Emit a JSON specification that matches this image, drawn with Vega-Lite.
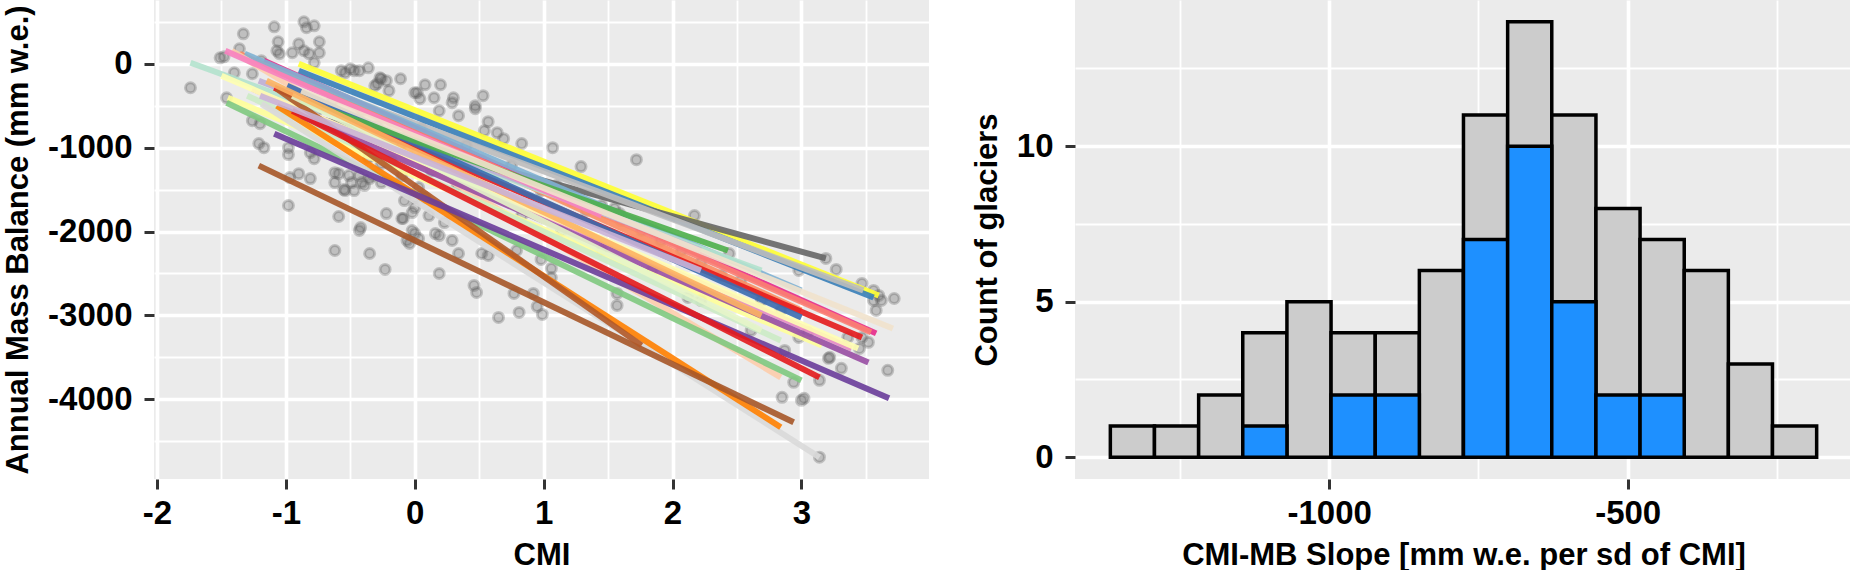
{
  "$schema": "https://vega.github.io/schema/vega-lite/v6.json",
  "background": "white",
  "padding": {"left": 2, "top": 0, "right": 0, "bottom": 0},
  "bounds": "flush",
  "spacing": 146,
  "config": {
    "view": {"fill": "#EBEBEB", "stroke": null},
    "font": "Liberation Sans",
    "axis": {
      "domain": false,
      "labelFont": "Liberation Sans",
      "labelFontSize": 33,
      "labelFontWeight": "bold",
      "labelColor": "#000000",
      "titleFont": "Liberation Sans",
      "titleFontSize": 31,
      "titleFontWeight": "bold",
      "titleColor": "#000000",
      "tickColor": "#333333",
      "tickSize": 10,
      "tickWidth": 3,
      "gridColor": "#FFFFFF",
      "gridOpacity": 1,
      "labelOverlap": false,
      "labelFlush": false,
      "labelBound": false
    },
    "axisX": {"labelPadding": 8, "titlePadding": 10},
    "axisY": {"labelPadding": 12, "titlePadding": 13}
  },
  "datasets": {
    "observations": [
      {"cmi": -1.74, "mb": -286}, {"cmi": -1.51, "mb": 71}, {"cmi": -1.48, "mb": 83}, {"cmi": -1.36, "mb": 179},
      {"cmi": -1.33, "mb": 357}, {"cmi": -1.09, "mb": 440}, {"cmi": -0.86, "mb": 500}, {"cmi": -0.78, "mb": 452},
      {"cmi": -0.84, "mb": 429}, {"cmi": -1.06, "mb": 262}, {"cmi": -0.74, "mb": 262}, {"cmi": -0.90, "mb": 238},
      {"cmi": -1.07, "mb": 155}, {"cmi": -1.05, "mb": 119}, {"cmi": -0.95, "mb": 131}, {"cmi": -0.86, "mb": 155},
      {"cmi": -0.82, "mb": 119}, {"cmi": -0.74, "mb": 131}, {"cmi": -0.78, "mb": 12}, {"cmi": -1.19, "mb": 36},
      {"cmi": -0.57, "mb": -83}, {"cmi": -0.50, "mb": -60}, {"cmi": -0.43, "mb": -83}, {"cmi": -0.31, "mb": -262},
      {"cmi": -0.26, "mb": -179}, {"cmi": -0.22, "mb": -202}, {"cmi": -0.11, "mb": -179}, {"cmi": 0.00, "mb": -345},
      {"cmi": -1.40, "mb": -107}, {"cmi": -1.26, "mb": -119}, {"cmi": -1.46, "mb": -405}, {"cmi": -1.26, "mb": -679},
      {"cmi": -1.20, "mb": -714}, {"cmi": -1.21, "mb": -952}, {"cmi": -1.17, "mb": -1000}, {"cmi": -0.98, "mb": -1000},
      {"cmi": -0.98, "mb": -1083}, {"cmi": -0.78, "mb": -1131}, {"cmi": -0.81, "mb": -1060}, {"cmi": -0.90, "mb": -1310},
      {"cmi": -0.97, "mb": -1357}, {"cmi": -0.81, "mb": -1369}, {"cmi": -0.62, "mb": -1298}, {"cmi": -0.62, "mb": -1417},
      {"cmi": -0.51, "mb": -1333}, {"cmi": -0.49, "mb": -1417}, {"cmi": -0.43, "mb": -1333}, {"cmi": -0.41, "mb": -1417},
      {"cmi": -0.55, "mb": -1500}, {"cmi": -0.47, "mb": -1512}, {"cmi": -0.39, "mb": -1452}, {"cmi": -0.35, "mb": -1369},
      {"cmi": -0.26, "mb": -1417}, {"cmi": -0.98, "mb": -1690}, {"cmi": -0.59, "mb": -1821}, {"cmi": -0.42, "mb": -1952},
      {"cmi": -0.22, "mb": -1786}, {"cmi": -0.09, "mb": -1845}, {"cmi": -0.02, "mb": -1774}, {"cmi": -0.08, "mb": -1631},
      {"cmi": 0.00, "mb": -1714}, {"cmi": -0.02, "mb": -1988}, {"cmi": -0.04, "mb": -2143}, {"cmi": 0.03, "mb": -2083},
      {"cmi": -0.62, "mb": -2226}, {"cmi": -0.36, "mb": -1119}, {"cmi": -0.26, "mb": -1190}, {"cmi": -0.18, "mb": -1155},
      {"cmi": -0.23, "mb": -881}, {"cmi": -0.10, "mb": -952}, {"cmi": 0.03, "mb": -1476}, {"cmi": -0.35, "mb": -2262},
      {"cmi": -0.23, "mb": -2452}, {"cmi": -0.43, "mb": -1988}, {"cmi": 0.00, "mb": -2024}, {"cmi": 0.08, "mb": -250},
      {"cmi": 0.20, "mb": -250}, {"cmi": 0.02, "mb": -345}, {"cmi": 0.04, "mb": -417}, {"cmi": 0.15, "mb": -405},
      {"cmi": 0.30, "mb": -405}, {"cmi": 0.29, "mb": -464}, {"cmi": 0.53, "mb": -381}, {"cmi": 0.47, "mb": -500},
      {"cmi": 0.47, "mb": -536}, {"cmi": 0.19, "mb": -560}, {"cmi": 0.34, "mb": -619}, {"cmi": 0.57, "mb": -690},
      {"cmi": 0.54, "mb": -798}, {"cmi": 0.64, "mb": -821}, {"cmi": 0.69, "mb": -893}, {"cmi": 0.83, "mb": -952},
      {"cmi": 1.07, "mb": -1000}, {"cmi": 1.29, "mb": -1226}, {"cmi": 1.72, "mb": -1143}, {"cmi": 0.11, "mb": -1810},
      {"cmi": 0.19, "mb": -2048}, {"cmi": 0.29, "mb": -2107}, {"cmi": 2.17, "mb": -1810}, {"cmi": 2.44, "mb": -2262},
      {"cmi": 3.19, "mb": -2321}, {"cmi": 3.27, "mb": -2452}, {"cmi": 2.98, "mb": -2464}, {"cmi": 3.47, "mb": -2619},
      {"cmi": 3.56, "mb": -2702}, {"cmi": 3.72, "mb": -2798}, {"cmi": 3.60, "mb": -2762}, {"cmi": 0.23, "mb": -1893},
      {"cmi": 0.19, "mb": -2500}, {"cmi": 0.46, "mb": -2643}, {"cmi": 0.48, "mb": -2726}, {"cmi": 0.77, "mb": -2738},
      {"cmi": 0.92, "mb": -2738}, {"cmi": 0.52, "mb": -2262}, {"cmi": 0.57, "mb": -2286}, {"cmi": 0.34, "mb": -2262},
      {"cmi": 1.57, "mb": -2738}, {"cmi": 2.12, "mb": -2786}, {"cmi": 1.55, "mb": -1726}, {"cmi": 1.59, "mb": -1786},
      {"cmi": 1.06, "mb": -2440}, {"cmi": 1.06, "mb": -2548}, {"cmi": 0.98, "mb": -2333}, {"cmi": 0.79, "mb": -2226},
      {"cmi": 0.65, "mb": -3024}, {"cmi": 0.81, "mb": -2964}, {"cmi": 0.95, "mb": -2893}, {"cmi": 0.99, "mb": -2988},
      {"cmi": 1.57, "mb": -2881}, {"cmi": 2.87, "mb": -3417}, {"cmi": 2.94, "mb": -3798}, {"cmi": 2.85, "mb": -3976},
      {"cmi": 3.00, "mb": -4012}, {"cmi": 3.14, "mb": -3774}, {"cmi": 3.22, "mb": -3500}, {"cmi": 3.31, "mb": -3631},
      {"cmi": 2.98, "mb": -3262}, {"cmi": 3.14, "mb": -4690}, {"cmi": 3.67, "mb": -3655}, {"cmi": 3.52, "mb": -3321},
      {"cmi": 3.45, "mb": -3393}, {"cmi": 3.47, "mb": -3262}, {"cmi": 3.58, "mb": -2940}, {"cmi": 3.56, "mb": -2821},
      {"cmi": 3.62, "mb": -2821}, {"cmi": 3.05, "mb": -3202}, {"cmi": 3.36, "mb": -3262}, {"cmi": 3.21, "mb": -3512},
      {"cmi": 3.02, "mb": -3988}, {"cmi": -0.54, "mb": -107}, {"cmi": -0.47, "mb": -83}, {"cmi": -0.36, "mb": -48},
      {"cmi": -0.27, "mb": -167}, {"cmi": -0.29, "mb": -238}, {"cmi": -0.20, "mb": -321}, {"cmi": -0.33, "mb": -1333},
      {"cmi": 0.08, "mb": -1595}, {"cmi": 0.00, "mb": -1595}, {"cmi": -0.10, "mb": -1845}, {"cmi": -0.06, "mb": -2107},
      {"cmi": 0.16, "mb": -2024}, {"cmi": -0.59, "mb": -1310}, {"cmi": -0.54, "mb": -1512},
      {"cmi": -0.88, "mb": -381}, {"cmi": -0.76, "mb": -560}, {"cmi": -0.64, "mb": -440}, {"cmi": -0.53, "mb": -619},
      {"cmi": -0.41, "mb": -560}, {"cmi": -0.29, "mb": -738}, {"cmi": -0.18, "mb": -679}, {"cmi": -0.06, "mb": -857},
      {"cmi": 0.05, "mb": -774}, {"cmi": 0.17, "mb": -917}, {"cmi": 0.29, "mb": -1036}, {"cmi": 0.40, "mb": -976},
      {"cmi": 0.52, "mb": -1155}, {"cmi": 0.64, "mb": -1274}, {"cmi": 0.75, "mb": -1214}, {"cmi": 0.87, "mb": -1393},
      {"cmi": 0.98, "mb": -1512}, {"cmi": 1.10, "mb": -1452}, {"cmi": 1.22, "mb": -1631}, {"cmi": 1.33, "mb": -1750},
      {"cmi": 1.45, "mb": -1690}, {"cmi": 1.60, "mb": -1869}, {"cmi": 1.76, "mb": -1988}, {"cmi": 1.91, "mb": -2107},
      {"cmi": 2.07, "mb": -2226}, {"cmi": 2.22, "mb": -2369}, {"cmi": 2.38, "mb": -2524}, {"cmi": 2.53, "mb": -2583},
      {"cmi": 2.69, "mb": -2821}, {"cmi": 2.84, "mb": -2940}, {"cmi": -0.10, "mb": -1333}, {"cmi": 0.13, "mb": -1274},
      {"cmi": 0.33, "mb": -1452}, {"cmi": 0.83, "mb": -1810}, {"cmi": 1.14, "mb": -1988}, {"cmi": 1.45, "mb": -2226},
      {"cmi": 1.84, "mb": -2464}, {"cmi": 2.22, "mb": -2821}, {"cmi": 2.61, "mb": -3179}
    ],
    "fits": [
      {"glacier": "G01", "cmi": -0.90, "mb": 0}, {"glacier": "G01", "cmi": 3.60, "mb": -2762},
      {"glacier": "G02", "cmi": -0.90, "mb": -83}, {"glacier": "G02", "cmi": 3.56, "mb": -2786},
      {"glacier": "G03", "cmi": -1.05, "mb": -524}, {"glacier": "G03", "cmi": 3.19, "mb": -2321},
      {"glacier": "G04", "cmi": -0.99, "mb": -143}, {"glacier": "G04", "cmi": 3.48, "mb": -2702},
      {"glacier": "G05", "cmi": -1.17, "mb": 36}, {"glacier": "G05", "cmi": 3.58, "mb": -3214},
      {"glacier": "G06", "cmi": -1.34, "mb": 95}, {"glacier": "G06", "cmi": 3.54, "mb": -3202},
      {"glacier": "G07", "cmi": -1.36, "mb": 119}, {"glacier": "G07", "cmi": 3.00, "mb": -2940},
      {"glacier": "G08", "cmi": -1.32, "mb": 119}, {"glacier": "G08", "cmi": 3.00, "mb": -2702},
      {"glacier": "G09", "cmi": -1.26, "mb": -298}, {"glacier": "G09", "cmi": 3.39, "mb": -3393},
      {"glacier": "G10", "cmi": -1.42, "mb": 155}, {"glacier": "G10", "cmi": 2.84, "mb": -3738},
      {"glacier": "G11", "cmi": -1.74, "mb": 12}, {"glacier": "G11", "cmi": 2.69, "mb": -2464},
      {"glacier": "G12", "cmi": -1.50, "mb": -143}, {"glacier": "G12", "cmi": 3.44, "mb": -3393},
      {"glacier": "G13", "cmi": -1.21, "mb": -202}, {"glacier": "G13", "cmi": 2.22, "mb": -2226},
      {"glacier": "G14", "cmi": -1.47, "mb": 155}, {"glacier": "G14", "cmi": 1.45, "mb": -1810},
      {"glacier": "G15", "cmi": -1.45, "mb": -405}, {"glacier": "G15", "cmi": 3.16, "mb": -3357},
      {"glacier": "G16", "cmi": -1.46, "mb": -464}, {"glacier": "G16", "cmi": 3.00, "mb": -3774},
      {"glacier": "G17", "cmi": -1.30, "mb": -381}, {"glacier": "G17", "cmi": 2.84, "mb": -3298},
      {"glacier": "G18", "cmi": -1.19, "mb": -476}, {"glacier": "G18", "cmi": 3.14, "mb": -4690},
      {"glacier": "G19", "cmi": -1.07, "mb": -500}, {"glacier": "G19", "cmi": 2.84, "mb": -4333},
      {"glacier": "G20", "cmi": -1.09, "mb": -286}, {"glacier": "G20", "cmi": 3.47, "mb": -3262},
      {"glacier": "G21", "cmi": -1.21, "mb": -1214}, {"glacier": "G21", "cmi": 2.94, "mb": -4274},
      {"glacier": "G22", "cmi": -1.07, "mb": -298}, {"glacier": "G22", "cmi": 1.76, "mb": -3357},
      {"glacier": "G23", "cmi": -1.09, "mb": -833}, {"glacier": "G23", "cmi": 3.68, "mb": -3988},
      {"glacier": "G24", "cmi": -0.88, "mb": -619}, {"glacier": "G24", "cmi": 3.52, "mb": -3560},
      {"glacier": "G25", "cmi": -0.95, "mb": -560}, {"glacier": "G25", "cmi": 3.14, "mb": -3738},
      {"glacier": "G26", "cmi": -0.99, "mb": -262}, {"glacier": "G26", "cmi": 3.00, "mb": -3024},
      {"glacier": "G27", "cmi": -0.88, "mb": -440}, {"glacier": "G27", "cmi": 2.43, "mb": -2226},
      {"glacier": "G28", "cmi": -0.88, "mb": -321}, {"glacier": "G28", "cmi": 3.71, "mb": -3155},
      {"glacier": "G29", "cmi": -0.95, "mb": -381}, {"glacier": "G29", "cmi": 2.69, "mb": -3179},
      {"glacier": "G30", "cmi": -1.15, "mb": -202}, {"glacier": "G30", "cmi": 2.69, "mb": -3000},
      {"glacier": "G31", "cmi": -1.20, "mb": -381}, {"glacier": "G31", "cmi": 2.22, "mb": -2464}
    ],
    "slopes": [
      {"bin_start": -1366.6, "bin_end": -1292.7, "all_glaciers": 1, "subset": 0},
      {"bin_start": -1292.7, "bin_end": -1218.7, "all_glaciers": 1, "subset": 0},
      {"bin_start": -1218.7, "bin_end": -1144.8, "all_glaciers": 2, "subset": 0},
      {"bin_start": -1144.8, "bin_end": -1070.8, "all_glaciers": 4, "subset": 1},
      {"bin_start": -1070.8, "bin_end": -996.9, "all_glaciers": 5, "subset": 0},
      {"bin_start": -996.9, "bin_end": -922.9, "all_glaciers": 4, "subset": 2},
      {"bin_start": -922.9, "bin_end": -849.0, "all_glaciers": 4, "subset": 2},
      {"bin_start": -849.0, "bin_end": -775.1, "all_glaciers": 6, "subset": 0},
      {"bin_start": -775.1, "bin_end": -701.1, "all_glaciers": 11, "subset": 7},
      {"bin_start": -701.1, "bin_end": -627.2, "all_glaciers": 14, "subset": 10},
      {"bin_start": -627.2, "bin_end": -553.2, "all_glaciers": 11, "subset": 5},
      {"bin_start": -553.2, "bin_end": -479.3, "all_glaciers": 8, "subset": 2},
      {"bin_start": -479.3, "bin_end": -405.3, "all_glaciers": 7, "subset": 2},
      {"bin_start": -405.3, "bin_end": -331.4, "all_glaciers": 6, "subset": 0},
      {"bin_start": -331.4, "bin_end": -257.5, "all_glaciers": 3, "subset": 0},
      {"bin_start": -257.5, "bin_end": -183.5, "all_glaciers": 1, "subset": 0}
    ]
  },
  "hconcat": [
    {
      "width": 775,
      "height": 479,
      "layer": [
        {
          "data": {"name": "observations"},
          "mark": {
            "type": "circle",
            "size": 100,
            "opacity": 1,
            "fill": "#5A5A5A",
            "fillOpacity": 0.3,
            "stroke": "#5A5A5A",
            "strokeOpacity": 0.3,
            "strokeWidth": 3
          },
          "encoding": {
            "x": {
              "field": "cmi",
              "type": "quantitative",
              "title": "CMI",
              "scale": {"domain": [-2.023, 3.99], "nice": false, "zero": false},
              "axis": {
                "values": [-2, -1.5, -1, -0.5, 0, 0.5, 1, 1.5, 2, 2.5, 3, 3.5],
                "labelExpr": "datum.value % 1 === 0 ? toString(datum.value) : ''",
                "gridWidth": {"condition": {"test": "datum.value % 1 === 0", "value": 3.6}, "value": 1.8},
                "tickOpacity": {"condition": {"test": "datum.value % 1 === 0", "value": 1}, "value": 0}
              }
            },
            "y": {
              "field": "mb",
              "type": "quantitative",
              "title": "Annual Mass Balance (mm w.e.)",
              "scale": {"domain": [-4950, 760], "nice": false, "zero": false},
              "axis": {
                "values": [-4500, -4000, -3500, -3000, -2500, -2000, -1500, -1000, -500, 0, 500],
                "labelExpr": "datum.value % 1000 === 0 ? toString(datum.value) : ''",
                "gridWidth": {"condition": {"test": "datum.value % 1000 === 0", "value": 3.6}, "value": 1.8},
                "tickOpacity": {"condition": {"test": "datum.value % 1000 === 0", "value": 1}, "value": 0}
              }
            }
          }
        },
        {
          "data": {"name": "fits"},
          "mark": {"type": "line", "strokeWidth": 6, "opacity": 0.9, "strokeCap": "butt"},
          "encoding": {
            "x": {"field": "cmi", "type": "quantitative"},
            "y": {"field": "mb", "type": "quantitative"},
            "color": {
              "field": "glacier",
              "type": "nominal",
              "legend": null,
              "scale": {
                "domain": ["G01", "G02", "G03", "G04", "G05", "G06", "G07", "G08", "G09", "G10", "G11", "G12", "G13", "G14", "G15", "G16", "G17", "G18", "G19", "G20", "G21", "G22", "G23", "G24", "G25", "G26", "G27", "G28", "G29", "G30", "G31"],
                "range": ["#FFFF33", "#377EB8", "#666666", "#BDBDBD", "#E7298A", "#FB8072", "#FC8D62", "#80B1D3", "#E78AC3", "#FDCDAC", "#B3E2CD", "#FFFFB3", "#BEAED4", "#F781BF", "#FFFF99", "#7FC97F", "#CCEBC5", "#D9D9D9", "#FF7F00", "#E41A1C", "#A65628", "#B15928", "#6A3D9A", "#984EA3", "#E31A1C", "#386CB0", "#4DAF4A", "#F1E2CC", "#E6F5C9", "#FDB462", "#CAB2D6"]
              }
            }
          }
        }
      ]
    },
    {
      "width": 777,
      "height": 479,
      "data": {"name": "slopes"},
      "layer": [
        {
          "mark": {"type": "bar", "fill": "#CCCCCC", "stroke": "#000000", "strokeWidth": 3.5, "strokeJoin": "miter"},
          "encoding": {
            "x": {
              "field": "bin_start",
              "type": "quantitative",
              "title": "CMI-MB Slope [mm w.e. per sd of CMI]",
              "scale": {"domain": [-1425.8, -124.3], "nice": false, "zero": false},
              "axis": {
                "values": [-1250, -1000, -750, -500, -250],
                "labelExpr": "datum.value % 500 === 0 ? toString(datum.value) : ''",
                "gridWidth": {"condition": {"test": "datum.value % 500 === 0", "value": 3.6}, "value": 1.8},
                "tickOpacity": {"condition": {"test": "datum.value % 500 === 0", "value": 1}, "value": 0}
              }
            },
            "x2": {"field": "bin_end"},
            "y": {
              "field": "all_glaciers",
              "type": "quantitative",
              "title": "Count of glaciers",
              "scale": {"domain": [-0.7, 14.7], "nice": false, "zero": false},
              "axis": {
                "values": [0, 2.5, 5, 7.5, 10, 12.5],
                "labelExpr": "datum.value % 5 === 0 ? toString(datum.value) : ''",
                "gridWidth": {"condition": {"test": "datum.value % 5 === 0", "value": 3.6}, "value": 1.8},
                "tickOpacity": {"condition": {"test": "datum.value % 5 === 0", "value": 1}, "value": 0}
              }
            },
            "y2": {"datum": 0}
          }
        },
        {
          "transform": [{"filter": "datum.subset > 0"}],
          "mark": {"type": "bar", "fill": "#1E90FF", "stroke": "#000000", "strokeWidth": 3.5, "strokeJoin": "miter"},
          "encoding": {
            "x": {"field": "bin_start", "type": "quantitative"},
            "x2": {"field": "bin_end"},
            "y": {"field": "subset", "type": "quantitative"},
            "y2": {"datum": 0}
          }
        }
      ]
    }
  ]
}
